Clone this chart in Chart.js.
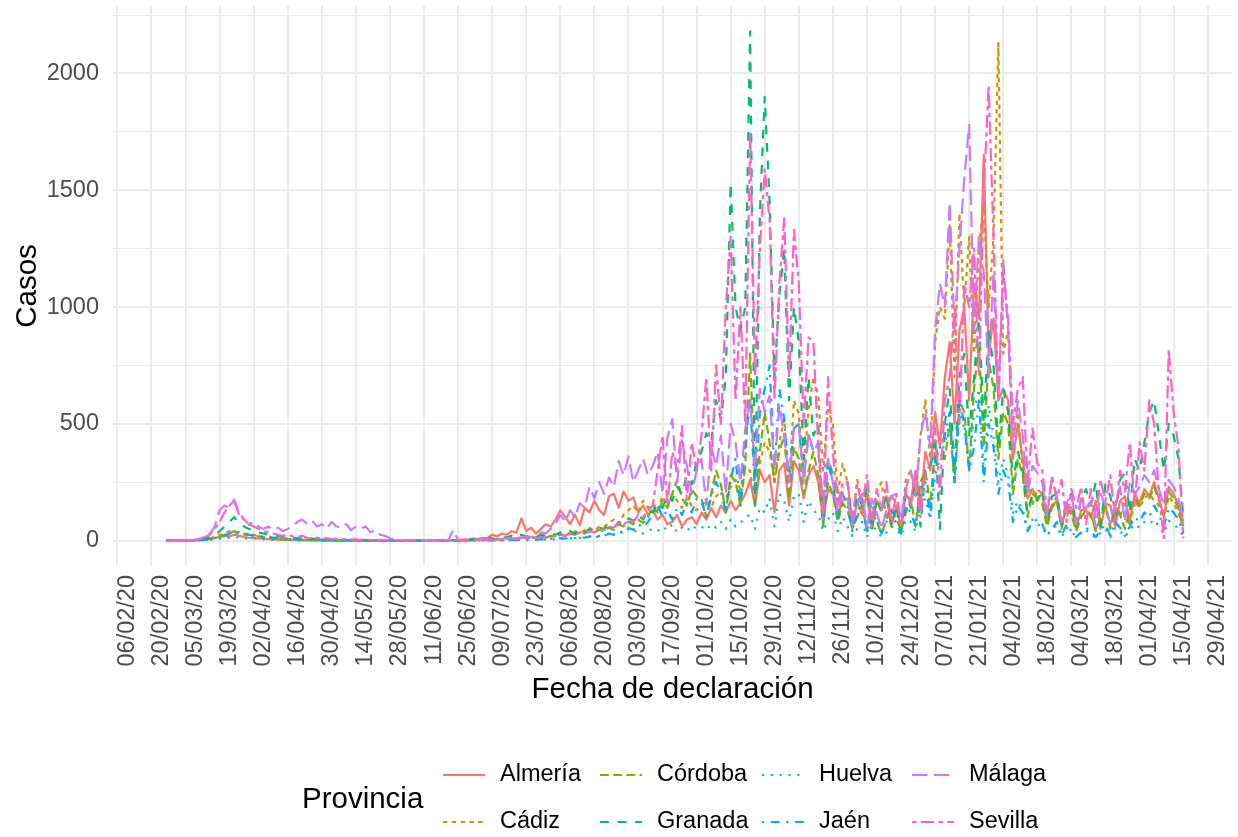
<!DOCTYPE html>
<html>
<head>
<meta charset="utf-8">
<script src="https://cdn.jsdelivr.net/npm/chart.js@4.4.1/dist/chart.umd.min.js"></script>
<style>
  html, body { margin: 0; padding: 0; background: #fff; }
</style>
</head>
<body>
<canvas id="myChart" width="1238" height="837"></canvas>
<script>
// dias contados desde el 06/02/20, un punto cada 2 dias
var dias = [];
for (var d = 20; d <= 438; d += 2) dias.push(d);

var etiquetasX = ['06/02/20','20/02/20','05/03/20','19/03/20','02/04/20','16/04/20','30/04/20','14/05/20',
  '28/05/20','11/06/20','25/06/20','09/07/20','23/07/20','06/08/20','20/08/20','03/09/20','17/09/20',
  '01/10/20','15/10/20','29/10/20','12/11/20','26/11/20','10/12/20','24/12/20','07/01/21','21/01/21',
  '04/02/21','18/02/21','04/03/21','18/03/21','01/04/21','15/04/21','29/04/21'];
var ticksY = [0, 500, 1000, 1500, 2000];
var provincias = ['Almería', 'Cádiz', 'Córdoba', 'Granada', 'Huelva', 'Jaén', 'Málaga', 'Sevilla'];

var almeria = [
  0,0,0,0,0,1,2,3,5,8, 12,15,20,18,25,20,15,12,10,8, 8,6,5,4,3,3,2,2,1,1,
  1,1,0,1,0,1,0,0,1,0, 0,0,1,0,0,0,1,0,0,0, 0,1,0,0,1,0,2,1,0,2,
  3,5,4,8,6,12,10,25,18,30, 25,40,35,95,40,55,30,50,70,60, 90,130,100,70,110,65,140,120,170,130,
  110,190,200,140,210,170,185,120,150,110, 130,90,110,70,80,110,60,90,100,70, 120,90,140,100,150,120,170,130,160,200,
  260,150,300,250,280,120,300,330,150,340, 300,180,280,320,250,90,220,200,100,170, 180,60,170,110,200,50,170,130,190,60,
  140,60,200,170,300,150,380,300,550,400, 700,850,500,900,1000,600,1100,950,1650,800, 950,600,650,600,350,500,350,180,220,180,
  200,80,150,170,60,150,140,50,130,130, 100,170,50,160,150,60,170,190,80,200, 160,220,190,250,180,100,230,200,150,60
];
var cadiz = [
  0,0,0,0,0,1,2,4,6,10, 15,25,30,40,35,30,25,20,25,20, 15,12,10,8,10,6,5,6,4,3,
  3,2,4,2,1,2,1,1,0,1, 0,1,0,0,1,0,0,0,1,0, 0,0,1,0,0,1,0,0,1,0,
  1,2,1,3,2,4,3,5,4,6, 8,6,10,8,12,15,10,14,20,18, 25,30,20,35,40,30,45,55,40,60,
  60,75,90,70,110,130,150,120,170,140, 160,130,190,150,200,170,140,180,150,130, 150,170,140,190,210,180,230,260,220,300,
  300,150,330,420,380,250,420,520,250,600, 540,300,560,700,620,300,560,500,200,330, 250,80,260,170,230,70,210,250,90,200,
  150,70,260,300,180,450,600,350,850,1000, 950,1350,700,1400,1000,1300,800,1250,1450,1000, 1300,2130,800,900,450,550,300,300,150,220,
  200,90,150,190,70,160,120,60,110,140, 110,50,100,150,60,140,100,170,60,170, 140,180,200,170,150,90,190,160,120,50
];
var cordoba = [
  0,0,0,0,0,0,1,2,3,6, 10,15,25,30,40,35,30,25,20,18, 15,12,10,8,6,5,6,4,3,3,
  2,3,1,2,1,1,0,1,0,0, 0,0,0,1,0,0,0,0,0,1, 0,0,0,1,0,0,0,1,0,0,
  0,1,2,1,3,2,4,3,5,6, 8,10,6,12,15,10,14,18,12,20, 15,25,20,30,25,35,30,40,35,45,
  40,55,45,70,60,80,70,90,75,100, 150,120,170,140,200,260,180,150,220,190, 180,100,200,300,240,120,280,250,150,320,
  800,200,380,550,420,250,380,450,180,400, 350,200,300,380,280,60,250,200,80,160, 130,50,100,150,40,130,80,30,90,140,
  100,40,120,180,60,250,300,150,400,350, 350,500,250,600,550,300,650,850,400,780, 650,350,550,500,200,350,280,100,200,180,
  160,60,140,170,50,150,110,40,100,130, 110,40,100,150,50,160,110,50,130,180, 150,200,180,230,170,110,210,180,140,40
];
var granada = [
  0,0,0,0,0,1,2,4,8,15, 25,40,60,80,100,75,60,50,45,35, 30,25,20,22,15,18,12,10,8,10,
  8,6,5,6,4,3,4,2,3,2, 2,1,2,1,0,1,0,1,0,1, 0,1,0,1,0,0,1,0,1,2,
  2,3,2,5,4,6,8,10,6,12, 15,20,12,25,18,22,15,25,20,30, 25,35,28,40,30,45,35,50,40,55,
  50,65,55,80,70,95,85,110,90,130, 120,160,140,190,170,230,200,280,240,340, 380,460,420,600,520,700,1530,1000,900,1000,
  2180,150,1400,1900,1450,700,1050,1250,600,1000, 850,350,700,450,500,60,350,280,100,220, 250,50,200,150,220,40,180,120,200,60,
  150,40,200,140,250,60,300,300,450,50, 500,650,300,700,800,450,700,950,500,900, 750,400,650,550,250,380,300,120,200,170,
  220,80,190,200,70,170,200,60,180,220, 150,250,60,240,190,80,260,290,120,350, 300,420,550,600,450,300,500,450,350,100
];
var huelva = [
  0,0,0,0,0,0,0,1,2,3, 5,8,10,12,15,12,10,8,10,8, 6,5,4,3,4,2,3,2,1,2,
  1,1,0,1,0,0,1,0,0,0, 0,0,0,0,1,0,0,0,0,0, 0,0,0,0,0,1,0,0,0,0,
  0,0,1,0,0,1,0,1,0,1, 1,2,1,3,2,4,3,2,5,4, 5,8,6,10,8,12,10,15,12,18,
  20,30,25,40,30,50,35,45,30,40, 50,40,60,45,70,35,55,40,65,50, 60,45,70,55,80,50,90,60,75,100,
  110,50,140,120,180,60,200,170,80,190, 200,80,170,130,110,40,90,120,40,100, 60,20,50,80,15,70,40,15,35,60,
  50,20,90,80,40,150,180,90,280,350, 420,500,250,550,480,300,550,650,300,580, 450,250,350,280,120,170,130,50,90,70,
  60,20,50,65,15,55,40,15,35,45, 30,10,35,50,15,55,40,15,45,70, 55,80,70,90,60,30,85,70,50,20
];
var jaen = [
  0,0,0,0,0,0,1,2,3,5, 10,15,20,30,40,35,30,25,20,18, 15,18,12,14,10,8,10,6,5,6,
  4,5,3,3,2,2,1,2,1,1, 0,1,0,0,1,0,0,0,0,0, 0,0,0,1,0,0,0,0,0,0,
  0,0,1,0,1,0,1,1,0,2, 2,3,2,4,3,5,3,6,4,8, 6,10,8,12,10,15,12,18,15,20,
  20,30,25,40,35,55,45,70,55,80, 110,150,100,130,90,140,110,160,120,180, 170,100,190,250,210,120,260,350,150,420,
  600,200,550,650,750,300,650,520,250,480, 500,250,450,380,400,100,330,250,100,200, 150,40,120,180,30,160,90,30,80,130,
  70,30,150,120,60,220,250,100,350,400, 450,550,250,600,500,300,400,600,250,500, 400,200,300,250,80,150,120,40,80,90,
  70,20,50,80,20,70,40,15,35,55, 40,15,45,70,20,80,55,20,60,100, 80,120,100,150,110,60,140,120,90,30
];
var malaga = [
  0,0,0,0,0,1,3,8,15,30, 60,130,150,140,175,120,90,70,80,60, 50,60,45,55,40,50,60,80,90,70,
  85,60,70,50,80,60,55,70,45,60, 50,60,35,45,25,20,10,5,3,2, 0,1,0,2,1,0,1,3,1,45,
  3,2,4,3,5,4,6,5,8,6, 10,8,15,12,18,15,22,35,30,50, 70,110,80,130,100,160,140,230,180,250,
  200,270,230,340,280,360,250,300,350,280, 320,380,200,440,520,250,430,320,200,300, 350,150,400,320,450,200,500,420,250,480,
  600,300,650,550,620,300,580,450,250,480, 500,250,460,380,420,150,350,250,120,200, 180,70,150,200,60,180,120,50,130,190,
  200,90,220,300,200,450,550,400,900,1100, 1000,1450,900,1250,1550,1780,900,1300,1150,700, 1150,600,1200,900,400,600,450,200,320,290,
  250,100,270,190,80,160,200,70,180,140, 170,60,200,150,70,160,230,80,250,200, 230,280,250,300,220,150,260,230,180,80
];
var sevilla = [
  0,0,1,0,1,2,4,8,15,25, 50,80,120,150,170,110,90,70,60,50, 40,35,30,25,20,25,18,15,20,12,
  10,12,8,10,6,8,5,6,4,5, 3,4,2,3,1,2,1,1,0,1, 0,1,0,0,1,0,0,1,0,0,
  1,0,2,1,3,2,4,3,5,4, 6,8,5,10,8,12,10,15,12,20, 18,25,20,30,28,35,30,40,35,50,
  45,60,55,75,65,90,80,110,100,130, 150,300,450,150,380,300,490,180,420,300, 450,700,300,750,500,1000,1300,600,1000,500,
  1750,700,1250,1590,1370,600,1100,1380,700,1330, 1100,500,870,850,400,90,700,380,150,250, 250,90,240,150,280,60,220,130,250,80,
  200,60,220,150,280,100,300,320,480,200, 600,700,1000,500,1100,1000,1250,700,1500,1950, 1300,600,1150,950,500,650,700,250,480,330,
  300,120,270,180,260,80,220,140,230,70, 220,100,260,170,280,90,300,210,420,150, 420,300,600,500,200,10,820,550,400,10
];

var series = [almeria, cadiz, cordoba, granada, huelva, jaen, malaga, sevilla];
var colores = ['#F8766D', '#CD9600', '#7CAE00', '#00BE67', '#00BFC4', '#00A9FF', '#C77CFF', '#FF61CC'];
var grosor = 2.2;
// tipos de linea de ggplot: solid, 22, 42, 44, 13, 1343, 73, 2262
var trazos = [[], [4.4, 4.4], [8.8, 4.4], [8.8, 8.8], [2.2, 6.6], [2.2, 6.6, 8.8, 6.6], [15.4, 6.6], [4.4, 4.4, 13.2, 4.4]];

var fuente = '"Liberation Sans", Arial, sans-serif';

var leyendaProvincia = {
  id: 'leyendaProvincia',
  afterDraw: function (chart) {
    var ctx = chart.ctx;
    var colX = [443, 600, 762, 912];
    var filaY = [775, 822];
    ctx.save();
    ctx.fillStyle = '#000000';
    ctx.textBaseline = 'middle';
    ctx.font = '29.5px ' + fuente;
    ctx.fillText('Provincia', 302, 800);
    ctx.font = '23.5px ' + fuente;
    chart.data.datasets.forEach(function (ds, i) {
      var x = colX[Math.floor(i / 2)];
      var y = filaY[i % 2];
      ctx.beginPath();
      ctx.strokeStyle = ds.borderColor;
      ctx.lineWidth = ds.borderWidth;
      ctx.setLineDash(ds.borderDash);
      ctx.moveTo(x, y);
      ctx.lineTo(x + 42, y);
      ctx.stroke();
      ctx.setLineDash([]);
      ctx.fillText(ds.label, x + 57, y);
    });
    ctx.restore();
  }
};

var ctx = document.getElementById('myChart');
var myChart = new Chart(ctx, {
  type: 'line',
  data: {
    datasets: provincias.map(function (p, i) {
      return {
        label: p,
        data: dias.map(function (d, k) { return { x: d, y: series[i][k] }; }),
        borderColor: colores[i],
        backgroundColor: colores[i],
        borderWidth: grosor,
        borderDash: trazos[i],
        borderJoinStyle: 'round',
        pointRadius: 0,
        tension: 0,
        fill: false,
        order: 7 - i
      };
    })
  },
  options: {
    responsive: false,
    animation: false,
    layout: {
      padding: { left: 0, right: 6, top: 6, bottom: 120 }
    },
    plugins: {
      legend: { display: false },
      tooltip: { enabled: false }
    },
    scales: {
      x: {
        type: 'linear',
        min: -1.8,
        max: 458,
        afterBuildTicks: function (scale) {
          scale.ticks = etiquetasX.map(function (t, i) { return { value: i * 14 }; });
        },
        afterFit: function (scale) {
          scale.height = 151;
          scale.paddingLeft = 0;
          scale.paddingRight = 0;
        },
        grid: { color: '#EBEBEB', lineWidth: 2, drawTicks: false },
        border: { display: false },
        ticks: {
          autoSkip: false,
          minRotation: 90,
          maxRotation: 90,
          padding: 9,
          labelOffset: 10,
          color: '#4D4D4D',
          font: { family: fuente, size: 23.5 },
          callback: function (v) { return etiquetasX[Math.round(v / 14)]; }
        },
        title: {
          display: true,
          text: 'Fecha de declaración',
          color: '#000000',
          font: { family: fuente, size: 29.5 },
          padding: { top: 0, bottom: 9 }
        }
      },
      y: {
        min: -109,
        max: 2289,
        afterBuildTicks: function (scale) {
          var t = [];
          for (var v = 0; v <= 2250; v += 250) t.push({ value: v });
          scale.ticks = t;
        },
        afterFit: function (scale) {
          scale.width = 113;
          scale.paddingTop = 0;
          scale.paddingBottom = 0;
        },
        grid: {
          color: '#EBEBEB',
          drawTicks: false,
          lineWidth: function (c) { return ticksY.indexOf(c.tick.value) >= 0 ? 2 : 1; }
        },
        border: { display: false },
        ticks: {
          padding: 14,
          color: '#4D4D4D',
          font: { family: fuente, size: 23.5 },
          callback: function (v) { return ticksY.indexOf(v) >= 0 ? String(v) : ''; }
        },
        title: {
          display: true,
          text: 'Casos',
          color: '#000000',
          font: { family: fuente, size: 29.5 },
          padding: { top: 10, bottom: 0 }
        }
      }
    }
  },
  plugins: [leyendaProvincia]
});
</script>
</body>
</html>
